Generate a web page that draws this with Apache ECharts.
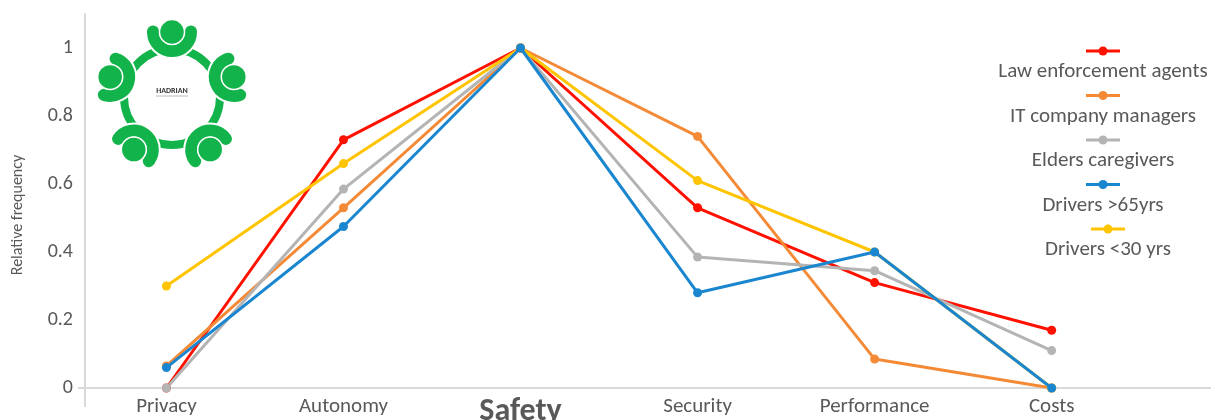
<!DOCTYPE html>
<html>
<head>
<meta charset="utf-8">
<script src="https://cdn.jsdelivr.net/npm/echarts@6/dist/echarts.min.js"></script>
<style>
  html, body { margin: 0; padding: 0; background: #ffffff; }
  #chart { width: 1211px; height: 420px; }
</style>
</head>
<body>
<div id="chart"></div>
<script>
// Requirement categories along the x axis
const categories = ['Privacy', 'Autonomy', 'Safety', 'Security', 'Performance', 'Costs'];
const highlightedCategory = 'Safety';

// Relative frequency per stakeholder group
const lawEnforcement   = [0.00, 0.73, 1.00, 0.53, 0.31, 0.17];
const itManagers       = [0.065, 0.53, 1.00, 0.74, 0.085, 0.00];
const eldersCaregivers = [0.00, 0.585, 1.00, 0.385, 0.345, 0.11];
const driversOver65    = [0.06, 0.475, 1.00, 0.28, 0.40, 0.00];
const driversUnder30   = [0.30, 0.66, 1.00, 0.61, 0.40, 0.00];

const seriesNames  = ['Law enforcement agents', 'IT company managers', 'Elders caregivers', 'Drivers >65yrs', 'Drivers <30 yrs'];
const seriesValues = [lawEnforcement, itManagers, eldersCaregivers, driversOver65, driversUnder30];
const seriesColors = ['#ff1100', '#f48a36', '#b4b4b4', '#1a86d0', '#ffc400'];

// y-axis tick values and title
const yTicks = [0, 0.2, 0.4, 0.6, 0.8, 1];
const yTitle = 'Relative frequency';

const FONT = 'Carlito, Calibri, "Open Sans", sans-serif';
const TEXT = '#595959';
const AXIS = '#d9d9d9';
const GREEN = '#12b34a';

const chart = echarts.init(document.getElementById('chart'), null, { renderer: 'canvas' });

const series = seriesNames.map((name, i) => ({
  name,
  type: 'line',
  data: seriesValues[i].map((v, k) => [k, v]),
  symbol: 'circle',
  symbolSize: 9,
  z: name === 'Drivers >65yrs' ? 4 : 2,
  lineStyle: { color: seriesColors[i], width: 3 },
  itemStyle: { color: seriesColors[i] }
}));

// Logo: five figures seated around a round table
const logo = [];
const lc = [172, 97];
logo.push({
  type: 'circle', shape: { cx: lc[0], cy: lc[1], r: 48 },
  style: { fill: 'none', stroke: GREEN, lineWidth: 8 }
});
for (let k = 0; k < 5; k++) {
  const a = (-90 + 72 * k) * Math.PI / 180;
  const hx = lc[0] + 65 * Math.cos(a);
  const hy = lc[1] + 65 * Math.sin(a);
  const back = a + Math.PI;
  const arcShape = { cx: hx, cy: hy, r: 19, startAngle: back - 1.6, endAngle: back + 1.6, clockwise: true };
  logo.push({
    type: 'arc', shape: arcShape,
    style: { fill: 'none', stroke: '#ffffff', lineWidth: 16, lineCap: 'round' }
  });
  logo.push({
    type: 'arc', shape: arcShape,
    style: { fill: 'none', stroke: GREEN, lineWidth: 12, lineCap: 'round' }
  });
  logo.push({
    type: 'circle', shape: { cx: hx, cy: hy, r: 12.5 },
    style: { fill: GREEN, stroke: '#ffffff', lineWidth: 1.5 }
  });
}
logo.push({
  type: 'text', x: lc[0], y: lc[1] - 6,
  style: { text: 'HADRIAN', font: 'bold 8px ' + FONT, fill: '#333333', align: 'center', verticalAlign: 'middle' }
});
logo.push({
  type: 'rect', shape: { x: lc[0] - 16, y: lc[1] - 1.5, width: 32, height: 1 },
  style: { fill: '#bbbbbb' }
});

// Legend: marker above centred label
const legendItems = [];
const legendX = 1103;
seriesNames.forEach((name, i) => {
  const iy = 51 + i * 44.5;
  const cx = legendX + (i === 4 ? 5 : 0);
  legendItems.push({
    type: 'line', shape: { x1: cx - 17, y1: iy, x2: cx + 17, y2: iy },
    style: { stroke: seriesColors[i], lineWidth: 3 }
  });
  legendItems.push({
    type: 'circle', shape: { cx, cy: iy, r: 4.5 },
    style: { fill: seriesColors[i] }
  });
  legendItems.push({
    type: 'text', x: cx, y: iy + 21,
    style: { text: name, font: '21px ' + FONT, fill: TEXT, align: 'center', verticalAlign: 'middle' }
  });
});

// Rotated y-axis title
const yTitleText = {
  type: 'text', x: 18, y: 215, rotation: Math.PI / 2,
  style: { text: yTitle, font: '16px ' + FONT, fill: TEXT, align: 'center', verticalAlign: 'middle' }
};

chart.setOption({
  animation: false,
  backgroundColor: '#ffffff',
  grid: { left: 85, right: 0, top: 14, bottom: 32, containLabel: false, outerBoundsMode: 'none' },
  xAxis: {
    type: 'value',
    min: -0.46,
    max: 5.9,
    splitLine: { show: false },
    axisLine: { show: true, onZero: false, lineStyle: { color: AXIS, width: 2 } },
    axisTick: { show: true, customValues: [-0.46], length: 19, lineStyle: { color: AXIS, width: 2 } },
    axisLabel: {
      customValues: categories.map((c, k) => k),
      margin: 8,
      fontFamily: FONT,
      fontSize: 21,
      color: TEXT,
      formatter: v => {
        const c = categories[Math.round(v)];
        return c === highlightedCategory ? '{hl|' + c + '}' : c;
      },
      rich: {
        hl: { fontFamily: FONT, fontSize: 32, fontWeight: 'bold', color: TEXT }
      }
    }
  },
  yAxis: {
    type: 'value',
    min: 0,
    max: 1.1,
    interval: 0.2,
    splitLine: { show: false },
    axisLine: { show: true, onZero: false, lineStyle: { color: AXIS, width: 2 } },
    axisTick: { show: true, customValues: [0], length: 7, lineStyle: { color: AXIS, width: 2 } },
    axisLabel: {
      customValues: yTicks,
      margin: 12,
      fontFamily: FONT,
      fontSize: 20,
      color: TEXT
    }
  },
  graphic: [...logo, ...legendItems, yTitleText],
  series
});
</script>
</body>
</html>
